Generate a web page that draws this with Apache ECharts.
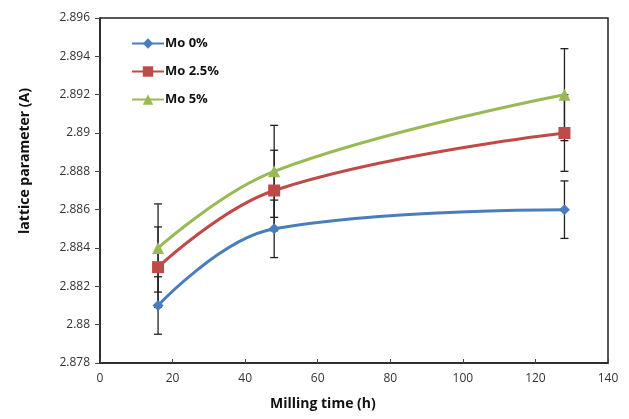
<!DOCTYPE html>
<html>
<head>
<meta charset="utf-8">
<script src="https://cdn.jsdelivr.net/npm/echarts@6/dist/echarts.min.js"></script>
<style>
html, body { margin: 0; padding: 0; background: #fff; }
#chart { width: 629px; height: 419px; }
</style>
</head>
<body>
<div id="chart"></div>
<script>
// milling time (h)
const millingTime = [16, 48, 128]

// lattice parameter per Mo content
const mo0 = [2.881, 2.885, 2.886]
const mo25 = [2.883, 2.887, 2.890]
const mo5 = [2.884, 2.888, 2.892]

// error bar half-widths
const err0 = [0.0015, 0.0015, 0.0015]
const err25 = [0.0021, 0.0021, 0.0020]
const err5 = [0.0023, 0.0024, 0.0024]

const seriesNames = ['Mo 0%', 'Mo 2.5%', 'Mo 5%']
const yTicks = [2.878, 2.88, 2.882, 2.884, 2.886, 2.888, 2.89, 2.892, 2.894, 2.896]
const xTicks = [0, 20, 40, 60, 80, 100, 120, 140]

const colors = ['#4A7EBB', '#BE4B48', '#98B954']
const symbols = ['diamond', 'rect', 'triangle']
const symbolSizes = [11, 12, 12]

const values = [mo0, mo25, mo5]
const errs = [err0, err25, err5]

const chart = echarts.init(document.getElementById('chart'))

const lineSeries = values.map((vals, i) => ({
  name: seriesNames[i],
  type: 'line',
  smooth: 0.4,
  data: millingTime.map((t, j) => [t, vals[j]]),
  symbol: symbols[i],
  symbolSize: symbolSizes[i],
  z: 3,
  lineStyle: { color: colors[i], width: 3 },
  itemStyle: { color: colors[i] }
}))

const errorSeries = values.map((vals, i) => ({
  type: 'custom',
  silent: true,
  z: 2,
  data: millingTime.map((t, j) => [t, vals[j] - errs[i][j], vals[j] + errs[i][j]]),
  renderItem: (params, api) => {
    const lo = api.coord([api.value(0), api.value(1)])
    const hi = api.coord([api.value(0), api.value(2)])
    const hw = 4
    const st = { stroke: '#222', lineWidth: 1.3 }
    return {
      type: 'group',
      children: [
        { type: 'line', shape: { x1: lo[0], y1: lo[1], x2: hi[0], y2: hi[1] }, style: st },
        { type: 'line', shape: { x1: lo[0] - hw, y1: lo[1], x2: lo[0] + hw, y2: lo[1] }, style: st },
        { type: 'line', shape: { x1: hi[0] - hw, y1: hi[1], x2: hi[0] + hw, y2: hi[1] }, style: st }
      ]
    }
  }
}))

chart.setOption({
  animation: false,
  backgroundColor: '#fff',
  grid: {
    left: 100, right: 21, top: 18, bottom: 56,
    show: true, borderColor: '#222', borderWidth: 1.5
  },
  legend: {
    data: seriesNames,
    orient: 'vertical',
    left: 126, top: 32,
    itemWidth: 32, itemHeight: 13, itemGap: 15,
    textStyle: { fontFamily: 'Open Sans', fontWeight: 'bold', fontSize: 13, color: '#111', padding: [0, 0, 0, -4] }
  },
  xAxis: {
    type: 'value',
    min: xTicks[0], max: xTicks[xTicks.length - 1], interval: 20,
    axisLine: { show: true, lineStyle: { color: '#222', width: 1.5 } },
    axisTick: { show: true, inside: true, length: 4, lineStyle: { color: '#444' } },
    axisLabel: { fontFamily: 'Open Sans', fontSize: 12, color: '#333', margin: 10 },
    splitLine: { show: false }
  },
  yAxis: {
    type: 'value',
    min: yTicks[0], max: yTicks[yTicks.length - 1], interval: 0.002,
    axisLine: { show: true, lineStyle: { color: '#222', width: 1.5 } },
    axisTick: { show: true, length: 5, lineStyle: { color: '#444' } },
    axisLabel: {
      fontFamily: 'Open Sans', fontSize: 12, color: '#333', margin: 10,
      formatter: v => String(+v.toFixed(3))
    },
    splitLine: { show: false }
  },
  graphic: [
    {
      type: 'text', left: 18, top: 88, rotation: Math.PI / 2,
      style: { text: 'lattice parameter (A)', font: 'bold 14px "Open Sans"', fill: '#111' }
    },
    {
      type: 'text', left: 270, top: 397,
      style: { text: 'Milling time (h)', font: 'bold 14px "Open Sans"', fill: '#111' }
    }
  ],
  series: [...errorSeries, ...lineSeries]
})
</script>
</body>
</html>
